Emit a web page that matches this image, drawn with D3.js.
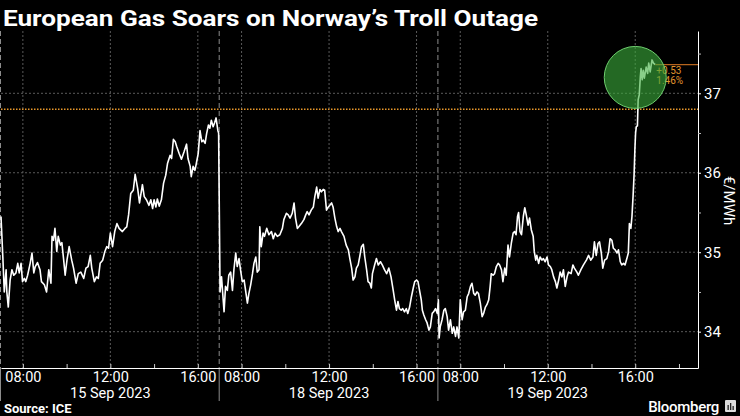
<!DOCTYPE html>
<html>
<head>
<meta charset="utf-8">
<script src="https://cdn.jsdelivr.net/npm/d3@7"></script>
<style>
  html, body { margin: 0; padding: 0; background: #000; }
  svg { display: block; }
</style>
</head>
<body>
<svg width="740" height="416"></svg>
<script>
// trading sessions shown on the chart (07:00 - 17:00 each)
const sessions = ["15 Sep 2023", "18 Sep 2023", "19 Sep 2023"];
const hourLabels = ["08:00", "12:00", "16:00"];
const yTicks = [34, 35, 36, 37];
const yMinor = [34.5, 35.5, 36.5, 37.5];
const refLevel = 36.80;
const changeLabels = ["+0.53", "1.46%"];

const day15 = [
  ["07:00",35.45],["07:05",34.94],["07:09",34.50],["07:14",34.78],["07:16",34.50],["07:20",34.31],
  ["07:25",34.65],["07:30",34.78],["07:35",34.71],["07:41",34.74],["07:46",34.86],["07:50",34.74],
  ["07:55",34.86],["07:59",34.63],["08:04",34.67],["08:08",34.63],["08:13",34.71],["08:20",34.86],
  ["08:25",34.99],["08:30",34.74],["08:34",34.82],["08:40",34.87],["08:47",34.78],["08:51",34.63],
  ["08:59",34.59],["09:05",34.50],["09:11",34.78],["09:17",34.61],["09:20",35.20],["09:24",35.15],
  ["09:28",35.30],["09:33",35.01],["09:37",35.20],["09:43",35.09],["09:47",35.12],["09:52",34.90],
  ["09:56",34.71],["10:01",34.90],["10:07",35.07],["10:14",34.90],["10:19",34.80],["10:26",34.61],
  ["10:32",34.73],["10:39",34.75],["10:47",34.67],["10:53",34.80],["10:59",34.82],["11:05",34.96],
  ["11:09",34.80],["11:16",34.63],["11:22",34.69],["11:27",34.67],["11:32",34.86],["11:39",34.90],
  ["11:45",35.01],["11:50",35.07],["11:55",35.05],["12:00",35.24],["12:06",35.07],["12:12",35.26],
  ["12:18",35.36],["12:24",35.30],["12:33",35.26],["12:40",35.30],["12:45",35.32],["12:50",35.47],
  ["12:56",35.74],["13:03",35.78],["13:08",35.98],["13:15",35.80],["13:20",35.62],["13:28",35.85],
  ["13:33",35.70],["13:39",35.66],["13:46",35.59],["13:51",35.66],["13:56",35.55],["14:00",35.66],
  ["14:05",35.57],["14:09",35.67],["14:14",35.58],["14:20",35.66],["14:26",35.87],["14:32",35.97],
  ["14:37",36.12],["14:44",36.22],["14:48",36.18],["14:53",36.42],["14:58",36.39],["15:02",36.33],
  ["15:09",36.24],["15:15",36.17],["15:22",36.26],["15:29",36.36],["15:33",36.18],["15:39",36.08],
  ["15:42",35.95],["15:47",36.08],["15:52",36.03],["15:56",36.12],["16:01",36.24],["16:06",36.53],
  ["16:11",36.39],["16:15",36.41],["16:20",36.37],["16:24",36.49],["16:29",36.60],["16:33",36.56],
  ["16:37",36.66],["16:42",36.58],["16:46",36.63],["16:50",36.69],["16:55",36.53],["16:57",36.50]
];

const day18 = [
  ["07:01",34.50],["07:05",34.69],["07:08",34.50],["07:12",34.25],["07:16",34.57],["07:21",34.52],
  ["07:25",34.71],["07:30",34.75],["07:35",34.52],["07:39",34.78],["07:44",34.99],["07:48",34.82],
  ["07:53",34.92],["07:57",34.78],["08:02",34.63],["08:07",34.65],["08:11",34.52],["08:16",34.36],
  ["08:20",34.48],["08:25",34.59],["08:30",34.73],["08:34",34.86],["08:39",34.94],["08:43",34.75],
  ["08:48",34.78],["08:50",35.32],["08:54",35.07],["08:59",35.24],["09:03",35.20],["09:09",35.30],
  ["09:15",35.22],["09:22",35.26],["09:27",35.17],["09:32",35.24],["09:38",35.20],["09:45",35.22],
  ["09:52",35.30],["09:56",35.41],["10:03",35.49],["10:08",35.47],["10:13",35.43],["10:19",35.49],
  ["10:24",35.62],["10:28",35.43],["10:33",35.30],["10:37",35.32],["10:44",35.36],["10:51",35.41],
  ["10:56",35.47],["11:00",35.51],["11:05",35.47],["11:11",35.53],["11:17",35.57],["11:21",35.70],
  ["11:26",35.82],["11:30",35.68],["11:35",35.79],["11:39",35.76],["11:44",35.79],["11:48",35.78],
  ["11:53",35.53],["11:58",35.57],["12:02",35.59],["12:07",35.62],["12:11",35.57],["12:16",35.43],
  ["12:21",35.32],["12:25",35.26],["12:30",35.30],["12:34",35.26],["12:41",35.20],["12:47",35.09],
  ["12:53",35.03],["12:57",34.92],["13:02",34.80],["13:06",34.65],["13:11",34.69],["13:15",34.80],
  ["13:20",34.84],["13:24",34.94],["13:29",35.07],["13:34",35.10],["13:38",34.94],["13:43",34.78],
  ["13:47",34.63],["13:52",34.61],["13:56",34.55],["13:59",34.73],["14:05",34.84],["14:10",34.92],
  ["14:15",34.84],["14:21",34.88],["14:26",34.84],["14:32",34.78],["14:38",34.73],["14:44",34.80],
  ["14:50",34.69],["14:56",34.52],["15:00",34.40],["15:05",34.27],["15:09",34.38],["15:13",34.29],
  ["15:18",34.27],["15:22",34.29],["15:27",34.25],["15:32",34.29],["15:36",34.23],["15:41",34.31],
  ["15:46",34.44],["15:51",34.55],["15:55",34.63],["16:00",34.65],["16:04",34.63],["16:09",34.50],
  ["16:13",34.40],["16:16",34.27],["16:20",34.21],["16:25",34.15],["16:29",34.11],["16:34",34.02],
  ["16:38",34.06],["16:43",34.23],["16:47",34.25],["16:52",34.29],["16:57",34.23],["17:00",34.40]
];

const day19 = [
  ["07:02",33.92],["07:05",34.06],["07:10",34.15],["07:15",34.27],["07:19",34.29],["07:24",34.19],
  ["07:28",34.02],["07:33",34.15],["07:38",33.98],["07:42",34.06],["07:47",33.94],["07:51",34.06],
  ["07:56",33.92],["08:00",34.40],["08:05",34.15],["08:09",34.25],["08:14",34.27],["08:19",34.44],
  ["08:23",34.48],["08:28",34.57],["08:32",34.61],["08:37",34.48],["08:41",34.46],["08:46",34.50],
  ["08:50",34.48],["08:55",34.36],["09:00",34.19],["09:04",34.23],["09:09",34.31],["09:13",34.34],
  ["09:18",34.40],["09:22",34.57],["09:25",34.73],["09:30",34.71],["09:34",34.73],["09:39",34.82],
  ["09:44",34.86],["09:48",34.84],["09:53",34.78],["09:57",34.63],["10:02",34.80],["10:06",34.71],
  ["10:11",35.09],["10:15",34.94],["10:20",35.11],["10:25",35.24],["10:29",35.26],["10:33",35.22],
  ["10:37",35.45],["10:40",35.50],["10:44",35.26],["10:48",35.22],["10:53",35.45],["10:57",35.56],
  ["11:01",35.47],["11:06",35.34],["11:10",35.43],["11:15",35.28],["11:20",35.20],["11:23",35.01],
  ["11:27",34.90],["11:30",34.96],["11:35",34.86],["11:39",34.94],["11:44",34.90],["11:48",34.92],
  ["11:53",34.88],["11:58",34.94],["12:02",34.84],["12:07",34.82],["12:11",34.78],["12:16",34.69],
  ["12:21",34.63],["12:25",34.55],["12:30",34.65],["12:34",34.75],["12:39",34.69],["12:43",34.78],
  ["12:48",34.57],["12:53",34.69],["12:57",34.75],["13:04",34.73],["13:09",34.84],["13:13",34.80],
  ["13:20",34.75],["13:24",34.71],["13:31",34.78],["13:38",34.84],["13:46",34.90],["13:52",34.96],
  ["13:58",34.90],["14:04",34.94],["14:08",35.13],["14:13",34.96],["14:18",35.11],["14:22",35.13],
  ["14:27",34.99],["14:31",34.80],["14:36",34.90],["14:42",34.92],["14:47",35.01],["14:51",35.17],
  ["14:56",35.15],["15:00",35.05],["15:05",35.03],["15:10",34.99],["15:14",35.03],["15:19",34.88],
  ["15:23",34.84],["15:28",34.86],["15:32",34.84],["15:37",34.92],["15:41",34.99],["15:44",35.36],
  ["15:48",35.30],["15:51",35.45],["15:54",35.70],["15:57",35.99],["15:59",36.29],["16:01",36.50],
  ["16:03",36.58],["16:06",36.59],["16:08",36.92],["16:11",36.98],["16:14",37.21],["16:16",37.31],
  ["16:19",37.17],["16:22",37.29],["16:25",37.19],["16:30",37.33],["16:34",37.25],["16:37",37.38],
  ["16:41",37.27],["16:46",37.42],["16:50",37.38],["16:55",37.36]
];

const openHour = 7, sessionHours = 10;
const axisEndHours = 31.87;   // x axis runs on past the last session close

const toT = (dayIdx, hhmm) => {
  const [h, m] = hhmm.split(":").map(Number);
  return dayIdx * sessionHours + h + m / 60 - openHour;
};

const series = [day15, day18, day19].flatMap((day, i) =>
  day.map(d => ({ t: toT(i, d[0]), v: d[1] })));

let svg = d3.select("svg");

const plot = { left: 1, right: 698, top: 31, bottom: 368 };

const xScale = d3.scaleLinear().domain([0, axisEndHours]).range([plot.left, plot.right]);
const yScale = d3.scaleLinear().domain([33.543, 37.784]).range([plot.bottom, plot.top]);

const font = "Roboto, 'Liberation Sans', sans-serif";

// title
svg.append("text")
  .attr("x", 3).attr("y", 26)
  .attr("fill", "#fff")
  .attr("textLength", 535).attr("lengthAdjust", "spacingAndGlyphs")
  .style("font", "bold 22px " + font)
  .text("European Gas Soars on Norway’s Troll Outage");

// horizontal gridlines
svg.append("g").selectAll("line").data(yTicks).enter().append("line")
  .attr("x1", plot.left).attr("x2", plot.right)
  .attr("y1", d => yScale(d)).attr("y2", d => yScale(d))
  .attr("stroke", "#5a5a5a").attr("stroke-dasharray", "2,2");

// vertical gridlines at labelled hours
const gridT = [];
sessions.forEach((s, i) => hourLabels.forEach(h => gridT.push(toT(i, h))));
svg.append("g").selectAll("line").data(gridT).enter().append("line")
  .attr("x1", d => xScale(d)).attr("x2", d => xScale(d))
  .attr("y1", plot.top).attr("y2", plot.bottom)
  .attr("stroke", "#5a5a5a").attr("stroke-dasharray", "2,2");

// session separators
const sepT = sessions.map((s, i) => i * sessionHours);
svg.append("g").selectAll("line").data(sepT).enter().append("line")
  .attr("x1", d => xScale(d) - 0.5).attr("x2", d => xScale(d) - 0.5)
  .attr("y1", plot.top).attr("y2", plot.bottom)
  .attr("stroke", "#8c8c8c").attr("stroke-dasharray", "5,3");
svg.append("g").selectAll("line").data(sepT).enter().append("line")
  .attr("x1", d => xScale(d) - 0.5).attr("x2", d => xScale(d) - 0.5)
  .attr("y1", plot.bottom).attr("y2", 401)
  .attr("stroke", "#8c8c8c");

// reference level (dotted orange)
svg.append("line")
  .attr("x1", plot.left).attr("x2", plot.right)
  .attr("y1", yScale(refLevel)).attr("y2", yScale(refLevel))
  .attr("stroke", "#e8972a").attr("stroke-width", 1.5).attr("stroke-dasharray", "1.5,1.5");

// price line
const line = d3.line().x(d => xScale(d.t)).y(d => yScale(d.v));
svg.append("path").datum(series)
  .attr("d", line)
  .attr("fill", "none").attr("stroke", "#fff").attr("stroke-width", 1.6)
  .attr("stroke-linejoin", "round");

// last value marker and change labels
const last = series[series.length - 1];
svg.append("line")
  .attr("x1", xScale(last.t)).attr("x2", plot.right)
  .attr("y1", yScale(last.v)).attr("y2", yScale(last.v))
  .attr("stroke", "#b5641e").attr("stroke-width", 1.2);
svg.append("g").selectAll("text").data(changeLabels).enter().append("text")
  .attr("x", xScale(last.t) + 1)
  .attr("y", (d, i) => yScale(last.v) + 9.5 + i * 10)
  .attr("fill", "#e0952e")
  .style("font", "10px " + font)
  .text(d => d);

// highlight circle around the spike
svg.append("circle")
  .attr("cx", xScale(toT(2, "16:00")))
  .attr("cy", yScale(37.2))
  .attr("r", 31)
  .attr("fill", "rgb(60,175,60)").attr("fill-opacity", 0.6)
  .attr("stroke", "rgb(110,205,110)").attr("stroke-width", 1);

// right axis
const yAxis = svg.append("g")
  .attr("transform", "translate(" + plot.right + ",0)")
  .call(d3.axisRight(yScale).tickValues(yTicks).tickFormat(d3.format("d"))
    .tickSize(3).tickPadding(3).tickSizeOuter(0));
yAxis.select(".domain").attr("stroke", "#fff");
yAxis.selectAll(".tick line").attr("stroke", "#fff");
yAxis.selectAll("text").attr("fill", "#fff").style("font", "15px " + font);

const yMinorAxis = svg.append("g")
  .attr("transform", "translate(" + plot.right + ",0)")
  .call(d3.axisRight(yScale).tickValues(yMinor).tickSize(3).tickFormat(""));
yMinorAxis.select(".domain").remove();
yMinorAxis.selectAll(".tick line").attr("stroke", "#bbb");

svg.append("text")
  .attr("transform", "translate(724," + yScale(35.65) + ") rotate(90)")
  .attr("text-anchor", "middle")
  .attr("fill", "#fff")
  .style("font", "15px " + font)
  .text("€/MWh");

// bottom axis
const xTickT = [];
sessions.forEach((s, i) => {
  for (let h = 8; h <= 18; h += 2) {
    const t = toT(i, String(h).padStart(2, "0") + ":00");
    if (i < sessions.length - 1 ? h < 17 : t <= axisEndHours) xTickT.push(t);
  }
});
const labelled = new Set(gridT.map(t => t.toFixed(3)));
const xAxis = svg.append("g")
  .attr("transform", "translate(0," + plot.bottom + ")")
  .call(d3.axisBottom(xScale).tickValues(xTickT).tickSize(-4).tickPadding(4).tickSizeOuter(0)
    .tickFormat(t => {
      if (!labelled.has(t.toFixed(3))) return "";
      const h = openHour + (t % sessionHours);
      return String(Math.round(h)).padStart(2, "0") + ":00";
    }));
xAxis.select(".domain").attr("stroke", "#fff");
xAxis.selectAll(".tick line").attr("stroke", "#ccc");
xAxis.selectAll("text").attr("fill", "#fff").style("font", "14.5px " + font);

svg.append("g").selectAll("text").data(sessions).enter().append("text")
  .attr("x", (d, i) => xScale(i * sessionHours + sessionHours / 2))
  .attr("y", 398)
  .attr("text-anchor", "middle")
  .attr("fill", "#fff")
  .style("font", "14.5px " + font)
  .text(d => d);

// footer
svg.append("text")
  .attr("x", 4).attr("y", 413)
  .attr("fill", "#fff")
  .style("font", "bold 13px " + font)
  .text("Source: ICE");

svg.append("text")
  .attr("x", 719).attr("y", 412)
  .attr("text-anchor", "end")
  .attr("fill", "#fff")
  .style("font", "500 15px " + font)
  .attr("letter-spacing", "-0.3")
  .text("Bloomberg");

const logo = svg.append("g").attr("transform", "translate(725,400)");
logo.append("rect").attr("width", 11).attr("height", 12).attr("rx", 1).attr("fill", "#ddd");
[[2.5, 5], [5, 3], [7.5, 6]].forEach(b => {
  logo.append("rect").attr("x", b[0]).attr("y", b[1]).attr("width", 1.3).attr("height", 10 - b[1]).attr("fill", "#222");
});
</script>
</body>
</html>
